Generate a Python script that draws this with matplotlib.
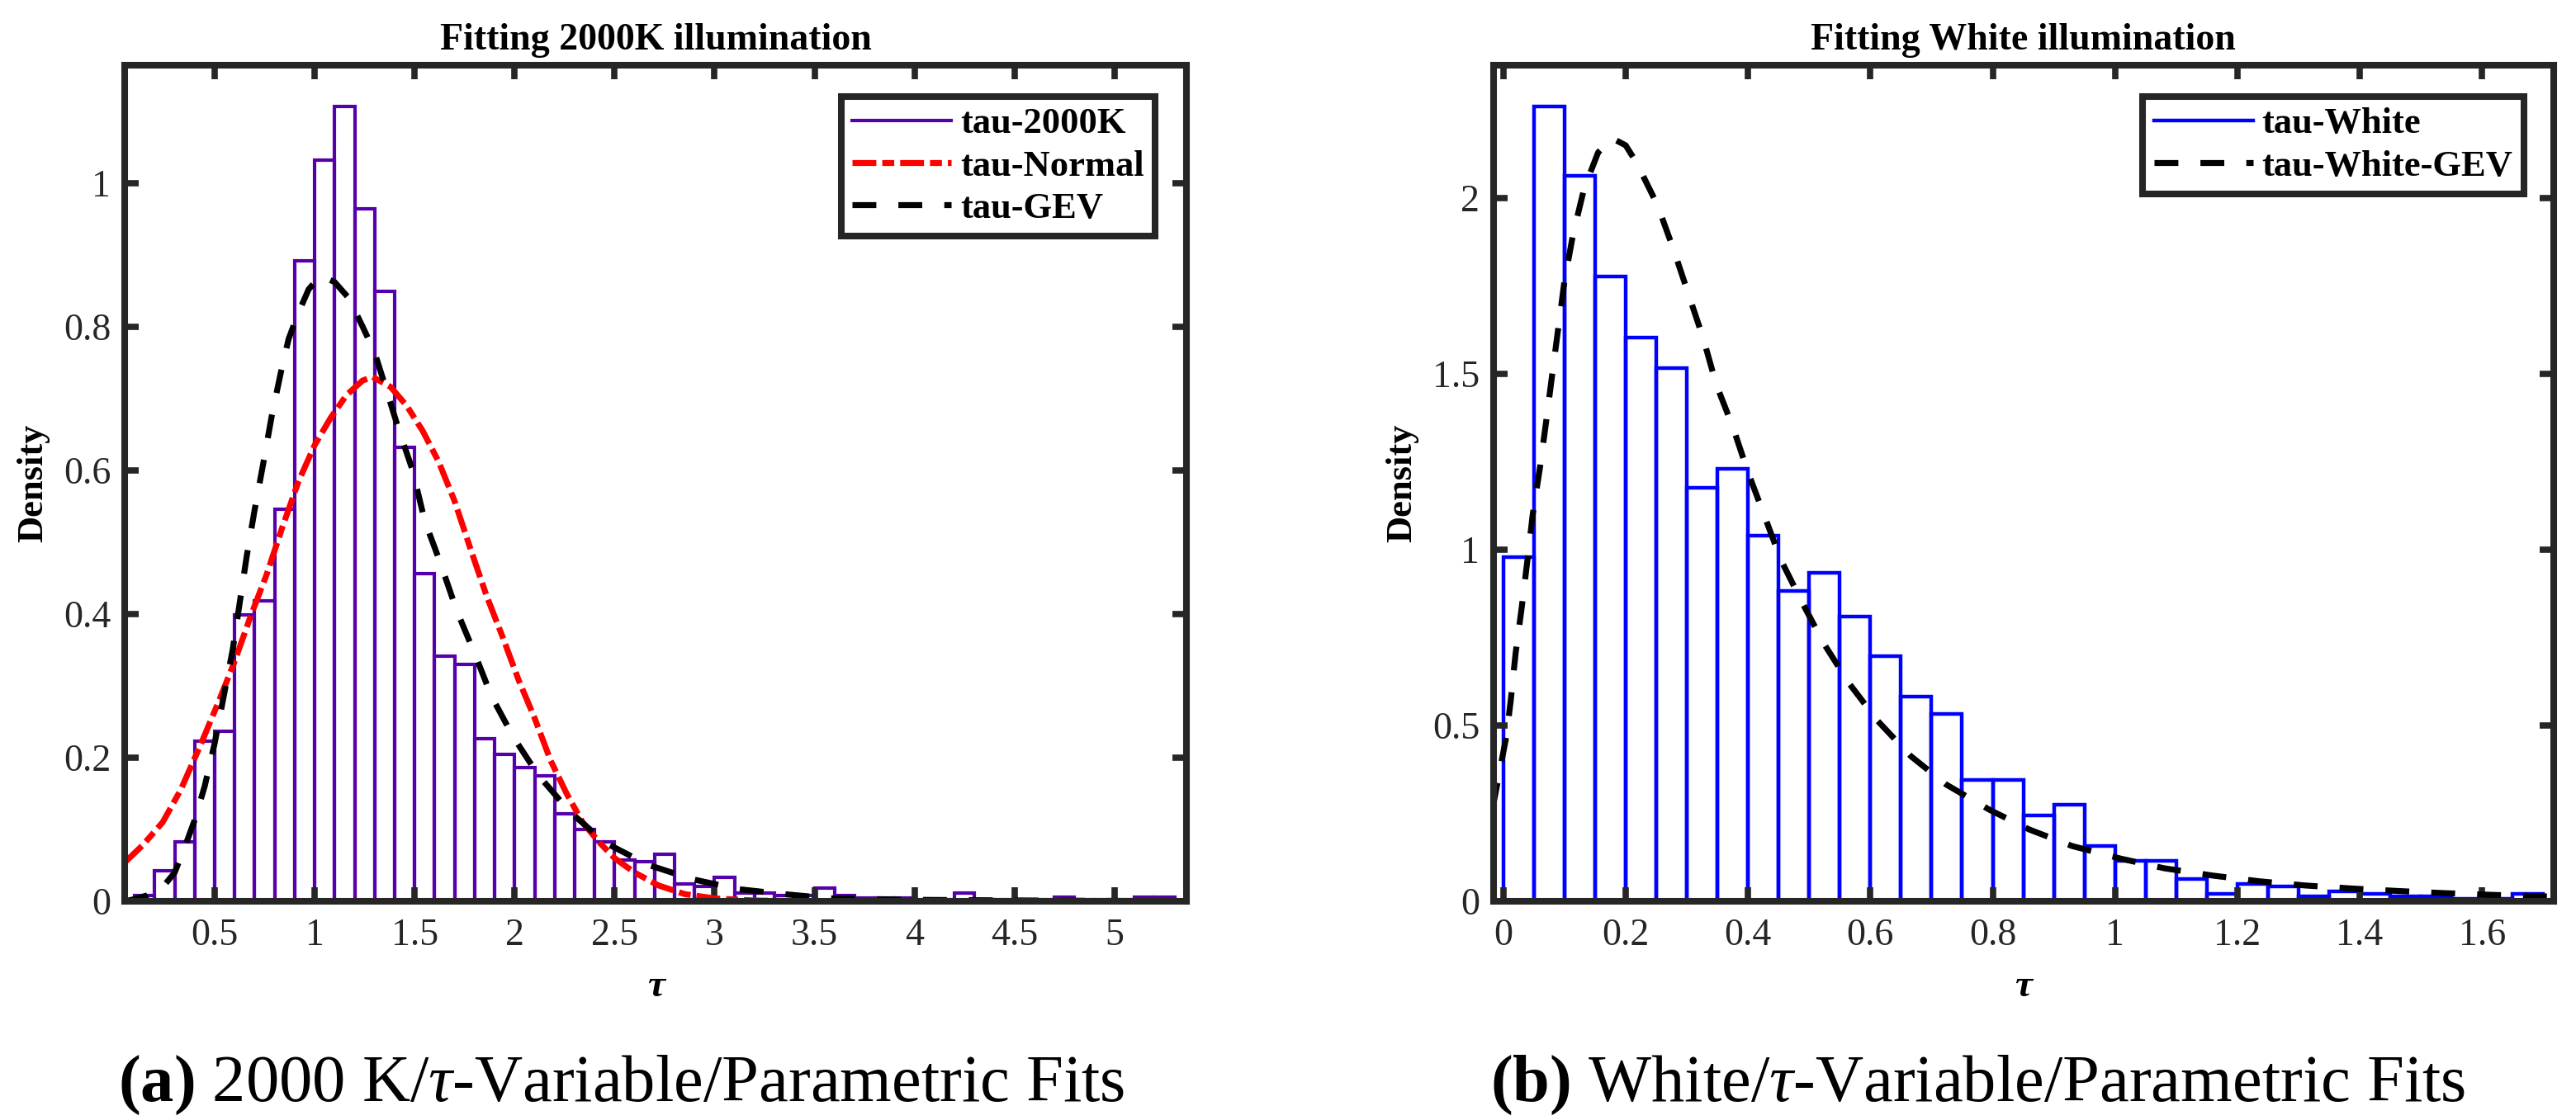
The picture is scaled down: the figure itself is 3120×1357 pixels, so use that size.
import matplotlib.pyplot as plt
from matplotlib.lines import Line2D

plt.rcParams['font.family'] = 'Liberation Serif'
plt.rcParams['mathtext.fontset'] = 'custom'
plt.rcParams['mathtext.rm'] = 'Liberation Serif'
plt.rcParams['mathtext.it'] = 'Liberation Serif:italic'
plt.rcParams['mathtext.bf'] = 'Liberation Serif:bold'

# ---- (a) 2000 K : histogram (bin left edges, width 0.1) ----
k_left = [0.1, 0.2, 0.3, 0.4, 0.5, 0.6, 0.7, 0.8, 0.9, 1.0,
          1.1, 1.2, 1.3, 1.4, 1.5, 1.6, 1.7, 1.8, 1.9, 2.0,
          2.1, 2.2, 2.3, 2.4, 2.5, 2.6, 2.7, 2.8, 2.9, 3.0,
          3.1, 3.2, 3.3, 3.4, 3.5, 3.6, 3.7, 3.8, 3.9, 4.0,
          4.1, 4.2, 4.3, 4.4, 4.5, 4.6, 4.7, 4.8, 4.9, 5.0,
          5.1, 5.2]
k_density = [0.008, 0.043, 0.083, 0.223, 0.237, 0.399, 0.418, 0.546, 0.892, 1.032,
             1.106, 0.964, 0.849, 0.632, 0.456, 0.341, 0.330, 0.226, 0.204, 0.186,
             0.175, 0.122, 0.100, 0.083, 0.058, 0.055, 0.065, 0.024, 0.021, 0.033,
             0.012, 0.012, 0.008, 0.008, 0.018, 0.008, 0.004, 0.004, 0.004, 0.002,
             0.002, 0.012, 0.002, 0.002, 0.002, 0.002, 0.006, 0.002, 0.002, 0.002,
             0.006, 0.006]

# normal fit
norm_x = [0.05, 0.14, 0.24, 0.33, 0.43, 0.52, 0.60, 0.68, 0.76, 0.84, 0.92,
          1.00, 1.08, 1.16, 1.24, 1.29, 1.38, 1.46, 1.54, 1.62, 1.70, 1.78,
          1.86, 1.94, 2.02, 2.10, 2.18, 2.26, 2.34, 2.42, 2.50, 2.60, 2.72,
          2.85, 3.00, 3.20, 3.50, 4.00, 5.40]
norm_y = [0.054, 0.078, 0.110, 0.155, 0.218, 0.278, 0.334, 0.397, 0.455, 0.522, 0.585,
          0.635, 0.673, 0.705, 0.725, 0.730, 0.716, 0.690, 0.655, 0.612, 0.557, 0.490,
          0.425, 0.368, 0.308, 0.255, 0.196, 0.150, 0.110, 0.083, 0.060, 0.040, 0.022,
          0.010, 0.004, 0.001, 0.0, 0.0, 0.0]

# GEV fit (2000 K)
gevk_x = [0.05, 0.10, 0.16, 0.25, 0.30, 0.35, 0.40, 0.45, 0.50, 0.545, 0.59,
          0.625, 0.66, 0.70, 0.74, 0.785, 0.83, 0.87, 0.92, 0.97, 1.03, 1.10,
          1.17, 1.24, 1.30, 1.35, 1.42, 1.49, 1.55, 1.63, 1.71, 1.80, 1.885,
          1.995, 2.12, 2.275, 2.45, 2.665, 2.885, 3.115, 3.345, 3.58, 4.00,
          4.60, 5.40]
gevk_y = [0.0, 0.003, 0.008, 0.023, 0.040, 0.075, 0.113, 0.160, 0.220, 0.285, 0.350,
          0.415, 0.480, 0.545, 0.605, 0.675, 0.735, 0.783, 0.820, 0.852, 0.871, 0.862,
          0.840, 0.800, 0.764, 0.720, 0.657, 0.600, 0.530, 0.470, 0.405, 0.345, 0.285,
          0.228, 0.175, 0.125, 0.082, 0.051, 0.031, 0.017, 0.010, 0.004, 0.002,
          0.001, 0.0]

# ---- (b) White : histogram (bin left edges, width 0.05) ----
w_left = [0.0, 0.05, 0.1, 0.15, 0.2, 0.25, 0.3, 0.35, 0.4, 0.45,
          0.5, 0.55, 0.6, 0.65, 0.7, 0.75, 0.8, 0.85, 0.9, 0.95,
          1.0, 1.05, 1.1, 1.15, 1.2, 1.25, 1.3, 1.35, 1.4, 1.45,
          1.5, 1.55, 1.6, 1.65]
w_density = [0.978, 2.260, 2.063, 1.776, 1.603, 1.516, 1.176, 1.229, 1.041, 0.883,
             0.934, 0.810, 0.697, 0.581, 0.532, 0.344, 0.344, 0.244, 0.274, 0.158,
             0.116, 0.116, 0.064, 0.020, 0.050, 0.042, 0.013, 0.028, 0.020, 0.015,
             0.015, 0.006, 0.006, 0.021]

# GEV fit (White)
gevw_x = [-0.017, -0.006, 0.005, 0.012, 0.020, 0.030, 0.039, 0.048, 0.060, 0.070,
          0.080, 0.090, 0.100, 0.114, 0.132, 0.155, 0.178, 0.200, 0.218, 0.252,
          0.279, 0.302, 0.327, 0.348, 0.375, 0.400, 0.426, 0.454, 0.489, 0.525,
          0.566, 0.612, 0.666, 0.724, 0.795, 0.860, 0.930, 1.010, 1.080, 1.160,
          1.235, 1.310, 1.390, 1.465, 1.540, 1.620, 1.720]
gevw_y = [0.27, 0.37, 0.47, 0.57, 0.705, 0.835, 0.965, 1.10, 1.235, 1.365,
          1.50, 1.633, 1.765, 1.897, 2.027, 2.130, 2.170, 2.150, 2.100, 1.980,
          1.850, 1.730, 1.600, 1.470, 1.350, 1.220, 1.100, 0.970, 0.848, 0.730,
          0.618, 0.513, 0.413, 0.332, 0.260, 0.204, 0.157, 0.121, 0.094, 0.073,
          0.057, 0.045, 0.036, 0.029, 0.023, 0.018, 0.013]

# ticks
k_xticks = [0.5, 1, 1.5, 2, 2.5, 3, 3.5, 4, 4.5, 5]
k_xlabels = ['0.5', '1', '1.5', '2', '2.5', '3', '3.5', '4', '4.5', '5']
k_yticks = [0, 0.2, 0.4, 0.6, 0.8, 1]
k_ylabels = ['0', '0.2', '0.4', '0.6', '0.8', '1']
w_xticks = [0, 0.2, 0.4, 0.6, 0.8, 1, 1.2, 1.4, 1.6]
w_xlabels = ['0', '0.2', '0.4', '0.6', '0.8', '1', '1.2', '1.4', '1.6']
w_yticks = [0, 0.5, 1, 1.5, 2]
w_ylabels = ['0', '0.5', '1', '1.5', '2']

purple = '#5500aa'
dark = '#262626'
fit_lw = 5.2
dashdot = (0, (4.0, 1.0, 2.0, 1.0))
dashed = (0, (4.0, 3.7))


def style(ax, xt, xl, yt, yl, xlim, ylim):
    ax.set_xlim(xlim)
    ax.set_ylim(ylim)
    ax.set_xticks(xt)
    ax.set_xticklabels(xl)
    ax.set_yticks(yt)
    ax.set_yticklabels(yl)
    for s in ax.spines.values():
        s.set_linewidth(5.8)
        s.set_color(dark)
    ax.tick_params(direction='in', length=12, width=5.5, color=dark,
                   top=True, right=True, labelsize=33, labelcolor=dark)
    ax.tick_params(axis='x', pad=15)
    ax.tick_params(axis='y', pad=12)
    ax.set_xlabel('τ', fontsize=34, fontweight='bold', fontstyle='italic', labelpad=14)
    ax.set_ylabel('Density', fontsize=32, fontweight='bold', labelpad=12)


fig = plt.figure(figsize=(31.2, 13.57), dpi=100)
ax1 = fig.add_axes([0.0484, 0.1953, 0.4122, 0.7465])
ax2 = fig.add_axes([0.5798, 0.1953, 0.4115, 0.7465])

# left panel
ax1.bar(k_left, k_density, width=0.1, align='edge', fill=False,
        edgecolor=purple, linewidth=3.0)
ax1.plot(norm_x, norm_y, color='red', lw=fit_lw, linestyle=dashdot)
ax1.plot(gevk_x, gevk_y, color='black', lw=fit_lw, linestyle=dashed)
style(ax1, k_xticks, k_xlabels, k_yticks, k_ylabels, (0.05, 5.36), (0, 1.164))
ax1.set_title('Fitting 2000K illumination', fontsize=33, fontweight='bold', pad=14)
h1 = [Line2D([], [], color=purple, lw=3.0),
      Line2D([], [], color='red', lw=fit_lw, linestyle=dashdot),
      Line2D([], [], color='black', lw=fit_lw, linestyle=dashed)]
leg1 = ax1.legend(h1, ['tau-2000K', 'tau-Normal', 'tau-GEV'], loc='upper right',
                  bbox_to_anchor=(0.9705, 0.9625), borderaxespad=0,
                  prop={'weight': 'bold', 'size': 32}, fancybox=False,
                  edgecolor=dark, framealpha=1, handlelength=2.7,
                  handletextpad=0.25, labelspacing=0.25, borderpad=0.3)
leg1.get_frame().set_linewidth(5.8)

# right panel
ax2.bar(w_left, w_density, width=0.05, align='edge', fill=False,
        edgecolor='#0000ff', linewidth=3.2)
ax2.plot(gevw_x, gevw_y, color='black', lw=fit_lw, linestyle=dashed)
style(ax2, w_xticks, w_xlabels, w_yticks, w_ylabels, (-0.016, 1.717), (0, 2.378))
ax2.set_title('Fitting White illumination', fontsize=33, fontweight='bold', pad=14)
h2 = [Line2D([], [], color='#0000ff', lw=3.2),
      Line2D([], [], color='black', lw=fit_lw, linestyle=dashed)]
leg2 = ax2.legend(h2, ['tau-White', 'tau-White-GEV'], loc='upper right',
                  bbox_to_anchor=(0.972, 0.9625), borderaxespad=0,
                  prop={'weight': 'bold', 'size': 32}, fancybox=False,
                  edgecolor=dark, framealpha=1, handlelength=2.7,
                  handletextpad=0.25, labelspacing=0.25, borderpad=0.3)
leg2.get_frame().set_linewidth(5.8)

# sub-captions
fig.text(0.0458, 0.031, r'$\mathbf{(a)}$ 2000 K/$\tau$-Variable/Parametric Fits',
         fontsize=58, ha='left', va='center')
fig.text(0.5785, 0.031, r'$\mathbf{(b)}$ White/$\tau$-Variable/Parametric Fits',
         fontsize=58, ha='left', va='center')

fig.savefig('out.png', dpi=100)
